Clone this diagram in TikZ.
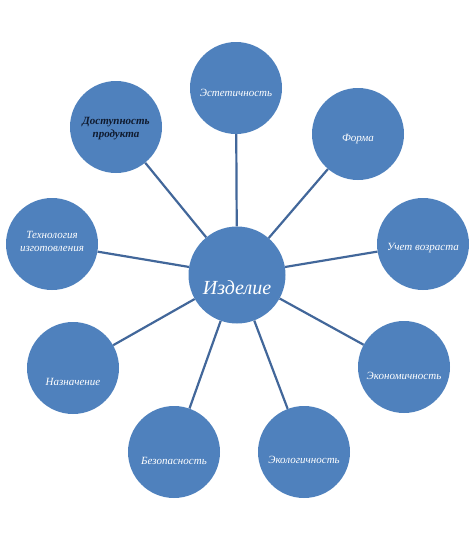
\documentclass[tikz,border=0pt]{standalone}
\usepackage{fontspec}
\setmainfont{Liberation Serif}
\usepackage{tikz}
\usetikzlibrary{positioning, calc}
\usepackage{xcolor}
\definecolor{bubblue}{HTML}{4F81BD}
\definecolor{linkblue}{HTML}{42679A}
\definecolor{darktext}{HTML}{0F1A2E}

\tikzset{
  bub/.style={circle, fill=bubblue, inner sep=0pt, minimum size=92pt},
  hub/.style={bub, minimum size=97pt},
  lbl/.style={font=\fontsize{11}{13}\selectfont\itshape, white, align=center},
  link/.style={draw=linkblue, line width=2.2pt}
}

\begin{document}
\begin{tikzpicture}[x=1pt, y=-1pt]
  \useasboundingbox (0,0) rectangle (474,536);

  % Center
  \node[hub] (izd) at (237,275) {};
  \node[font=\fontsize{20}{24}\selectfont\itshape, white] (izd-t)
    at ([yshift=-13pt]izd.center) {Изделие};

  % Outer circles
  \node[bub] (estet) at (236,88) {};
  \node[bub] (forma) at (358,134) {};
  \node[bub] (vozr) at (423,244) {};
  \node[bub] (ekonom) at (404,367) {};
  \node[bub] (ekolog) at (304,452) {};
  \node[bub] (bezop) at (174,452) {};
  \node[bub] (nazn) at (73,368) {};
  \node[bub] (tehn) at (52,244) {};
  \node[bub] (dost) at (116,127) {};

  % Connectors
  \foreach \n in {estet, forma, vozr, ekonom, ekolog, bezop, nazn, tehn, dost}
    \draw[link] (izd) -- (\n);

  % Labels
  \node[lbl] (estet-t) at ([yshift=-5pt]estet.center) {Эстетичность};
  \node[lbl] (forma-t) at ([yshift=-5pt]forma.center) {Форма};
  \node[lbl] (vozr-t) at ([yshift=-4pt]vozr.center) {Учет возраста};
  \node[lbl] (ekonom-t) at ([yshift=-9pt]ekonom.center) {Экономичность};
  \node[lbl] (ekolog-t) at ([yshift=-8pt]ekolog.center) {Экологичность};
  \node[lbl] (bezop-t) at ([yshift=-9pt]bezop.center) {Безопасность};
  \node[lbl] (nazn-t) at ([yshift=-14pt]nazn.center) {Назначение};
  \node[lbl] (tehn-t) at ([yshift=3pt]tehn.center) {Технология\\изготовления};
  \node[lbl, darktext, font=\fontsize{11}{13}\selectfont\itshape\bfseries]
    (dost-t) at ([yshift=-2pt]dost.center) {Доступность\\продукта};
\end{tikzpicture}
\end{document}
